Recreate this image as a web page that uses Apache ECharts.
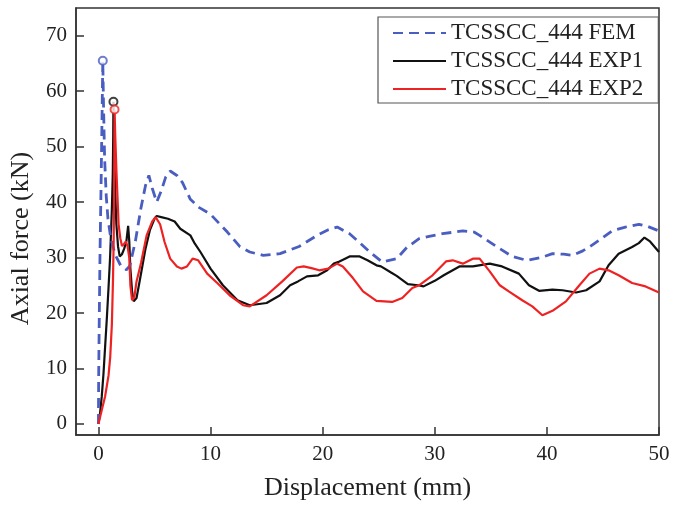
<!DOCTYPE html>
<html>
<head>
<meta charset="utf-8">
<script src="https://cdn.jsdelivr.net/npm/echarts@6/dist/echarts.min.js"></script>
<style>
  html, body { margin: 0; padding: 0; background: #fff; }
  #chart { width: 674px; height: 506px; }
</style>
</head>
<body>
<div id="chart"></div>
<script>
const SERIES_NAMES = ['TCSSCC_444 FEM', 'TCSSCC_444 EXP1', 'TCSSCC_444 EXP2']
const X_TICKS = [0, 10, 20, 30, 40, 50]
const Y_TICKS = [0, 10, 20, 30, 40, 50, 60, 70]

// [displacement mm, axial force kN]
const femData = [
  [0, 0], [0.02, 8], [0.08, 20], [0.15, 32], [0.25, 45], [0.32, 55], [0.39, 65.5],
  [0.45, 58], [0.55, 48], [0.7, 41], [0.85, 37], [1.1, 33.5], [1.5, 30.5], [2.0, 28.5],
  [2.5, 27.8], [2.8, 28.5], [3.3, 33], [3.8, 39], [4.2, 43], [4.5, 44.8], [4.8, 42.5],
  [5.2, 40], [5.6, 42], [6.0, 44.5], [6.4, 45.6], [7.0, 44.8], [7.5, 43.5], [8.2, 40.5],
  [9.0, 39], [10, 37.8], [11.5, 34.6], [12.6, 32], [13.5, 31], [14.7, 30.4], [16.2, 30.7],
  [17.9, 32], [19.5, 34], [20.5, 35], [21.3, 35.5], [22.4, 34.3], [23.4, 32.5], [24.2, 31],
  [25.3, 29.2], [26.6, 29.8], [27.5, 31.8], [28.6, 33.4], [29.5, 33.8], [30.7, 34.3],
  [32.5, 34.8], [33.5, 34.6], [34, 34], [35.5, 32], [36.9, 30.2], [38.2, 29.5], [39.5, 30],
  [40.5, 30.7], [41.5, 30.6], [42.3, 30.4], [43.2, 31.2], [44, 32.2], [45, 33.6], [45.8, 34.8],
  [47, 35.5], [48.2, 36], [49, 35.6], [50, 34.8]
]

const exp1Data = [
  [0, 0], [0.15, 2], [0.3, 5], [0.45, 9], [0.6, 14], [0.75, 19], [0.9, 24.5], [1.04, 30],
  [1.2, 38.8], [1.28, 45], [1.32, 52], [1.34, 58.1], [1.42, 50], [1.5, 42], [1.6, 36],
  [1.75, 32], [1.9, 30.2], [2.1, 30.6], [2.3, 31.6], [2.5, 33], [2.65, 35.7], [2.75, 33],
  [2.85, 28], [3.0, 24], [3.15, 22.1], [3.4, 22.7], [3.7, 26], [4.2, 31.6], [4.6, 35],
  [5.0, 37], [5.2, 37.5], [5.6, 37.3], [6.2, 37], [6.8, 36.5], [7.3, 35.2], [8.2, 34],
  [8.6, 32.5], [9.1, 31], [10, 28], [11.1, 25], [12.4, 22.3], [13.5, 21.4], [15, 21.8],
  [16.2, 23.2], [17.1, 25], [17.8, 25.7], [18.6, 26.6], [19.6, 26.8], [20.4, 27.7], [21, 28.9],
  [21.5, 29.3], [22.4, 30.2], [23.3, 30.2], [24, 29.5], [24.8, 28.6], [25.2, 28.4], [26.1, 27.3],
  [26.6, 26.7], [27.6, 25.2], [28.5, 25], [29, 24.8], [30, 25.8], [30.8, 26.8], [32.2, 28.4],
  [33.4, 28.4], [34.9, 28.9], [36, 28.4], [37.5, 27.1], [38.4, 25], [39.3, 24], [40.5, 24.2],
  [41.4, 24.1], [42.6, 23.7], [43.5, 24.1], [44.7, 25.7], [45.5, 28.6], [46.4, 30.7],
  [47.6, 31.9], [48.2, 32.6], [48.7, 33.6], [49.2, 32.9], [50, 31]
]

const exp2Data = [
  [0, 0], [0.3, 2.5], [0.6, 5], [0.9, 8.7], [1.05, 12], [1.2, 18], [1.3, 26], [1.36, 33],
  [1.4, 42], [1.42, 50], [1.44, 56.7], [1.5, 52], [1.6, 46], [1.7, 41], [1.8, 36],
  [1.95, 33.5], [2.1, 32.1], [2.3, 32.5], [2.45, 32.9], [2.6, 32], [2.75, 30], [2.85, 25],
  [3.0, 22.3], [3.2, 22.8], [3.4, 25.7], [3.8, 29], [4.3, 34], [4.8, 36.5], [5.1, 37.3],
  [5.5, 36], [5.9, 32.8], [6.4, 29.8], [7.0, 28.4], [7.4, 28], [7.9, 28.4], [8.4, 29.8],
  [8.9, 29.5], [9.7, 27.1], [10.6, 25.4], [11.7, 23.2], [12.9, 21.4], [13.5, 21.2], [15, 23.2],
  [16.4, 25.7], [17.7, 28.2], [18.3, 28.4], [19, 28.1], [19.7, 27.7], [20.5, 28], [21.3, 28.9],
  [21.8, 28.4], [22.7, 26.3], [23.6, 23.9], [24.8, 22.2], [26.2, 22], [27.1, 22.7], [28, 24.5],
  [28.6, 25], [29.8, 26.8], [31, 29.3], [31.6, 29.5], [32.5, 28.9], [33.4, 29.8], [34, 29.8],
  [34.9, 27.5], [35.8, 25], [36.6, 23.9], [37.8, 22.3], [38.7, 21.2], [39.6, 19.6], [40.5, 20.4],
  [41.7, 22.1], [42.9, 25], [43.8, 27.1], [44.7, 28], [45.5, 27.7], [46.4, 26.8], [47.6, 25.4],
  [48.8, 24.8], [50, 23.7]
]

// peak load markers
const femPeak  = [[0.39, 65.5]]
const exp1Peak = [[1.34, 58.1]]
const exp2Peak = [[1.44, 56.7]]

const FONT = "'Liberation Serif', 'Times New Roman', serif"
const BLUE  = '#4a5dc0'
const BLACK = '#111111'
const RED   = '#ee2222'
const AXIS  = '#333333'

const chart = echarts.init(document.getElementById('chart'), null, { renderer: 'canvas' })

function peakSeries(name, data, color) {
  return {
    name,
    type: 'scatter',
    data,
    symbol: 'emptyCircle',
    symbolSize: 8,
    itemStyle: { color, borderColor: color, borderWidth: 1.5 },
    z: 5,
    silent: true,
  }
}

chart.setOption({
  backgroundColor: '#fff',
  animation: false,
  textStyle: { fontFamily: FONT },
  grid: { left: 75, right: 15, top: 8, bottom: 68, show: true, borderColor: AXIS, borderWidth: 1.5 },
  legend: {
    data: SERIES_NAMES,
    orient: 'vertical',
    left: 378,
    top: 17,
    padding: [3, 15, 1, 14],
    itemWidth: 53,
    itemHeight: 12,
    itemGap: 2,
    itemStyle: { opacity: 0 },
    borderColor: '#555',
    borderWidth: 1.2,
    backgroundColor: '#fff',
    textStyle: { fontFamily: FONT, fontSize: 23, lineHeight: 26, color: '#222' },
  },
  xAxis: {
    type: 'value',
    min: -2,
    max: 50,
    name: 'Displacement (mm)',
    nameLocation: 'middle',
    nameGap: 40,
    nameTextStyle: { fontFamily: FONT, fontSize: 26, color: '#222' },
    axisLine: { onZero: false, lineStyle: { color: AXIS, width: 1.5 } },
    axisTick: { inside: true, length: 8, customValues: X_TICKS, lineStyle: { color: AXIS, width: 1.5 } },
    axisLabel: { customValues: X_TICKS, margin: 9, fontFamily: FONT, fontSize: 21, color: '#222' },
    splitLine: { show: false },
  },
  yAxis: {
    type: 'value',
    min: -2,
    max: 75,
    name: 'Axial force (kN)',
    nameLocation: 'middle',
    nameGap: 42,
    // nudge the rotated title a bit lower, as in the original
    nameTextStyle: { fontFamily: FONT, fontSize: 26, color: '#222', padding: [0, 34, 0, 0] },
    axisLine: { show: true, onZero: false, lineStyle: { color: AXIS, width: 1.5 } },
    axisTick: { show: true, inside: true, length: 8, customValues: Y_TICKS, lineStyle: { color: AXIS, width: 1.5 } },
    axisLabel: { customValues: Y_TICKS, margin: 9, fontFamily: FONT, fontSize: 21, color: '#222' },
    splitLine: { show: false },
  },
  series: [
    {
      name: SERIES_NAMES[0],
      type: 'line',
      data: femData,
      symbol: 'none',
      lineStyle: { color: BLUE, width: 2.8, type: [10, 6] },
      itemStyle: { color: BLUE },
      z: 3,
    },
    {
      name: SERIES_NAMES[1],
      type: 'line',
      data: exp1Data,
      symbol: 'none',
      lineStyle: { color: BLACK, width: 2.2 },
      itemStyle: { color: BLACK },
      z: 2,
    },
    {
      name: SERIES_NAMES[2],
      type: 'line',
      data: exp2Data,
      symbol: 'none',
      lineStyle: { color: RED, width: 2.2 },
      itemStyle: { color: RED },
      z: 4,
    },
    peakSeries('femPeak', femPeak, BLUE),
    peakSeries('exp1Peak', exp1Peak, BLACK),
    peakSeries('exp2Peak', exp2Peak, RED),
  ],
})
</script>
</body>
</html>
